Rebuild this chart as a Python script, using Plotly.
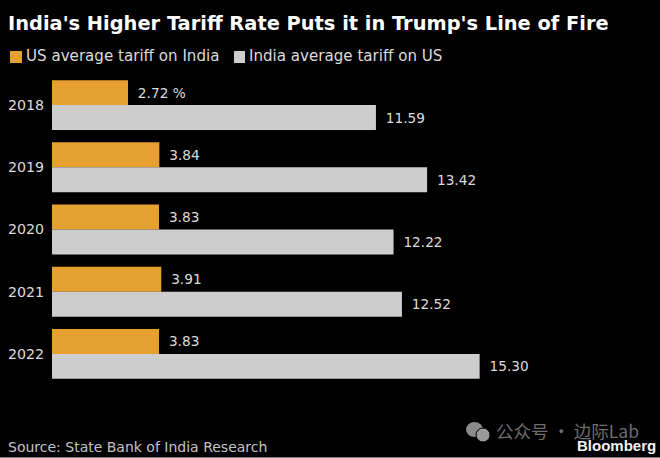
import plotly.graph_objects as go

years = ["2018", "2019", "2020", "2021", "2022"]
us_on_india = [2.72, 3.84, 3.83, 3.91, 3.83]
india_on_us = [11.59, 13.42, 12.22, 12.52, 15.30]
us_labels = ["2.72 %", "3.84", "3.83", "3.91", "3.83"]
india_labels = ["11.59", "13.42", "12.22", "12.52", "15.30"]

W, H = 660, 458
L, R, T, B = 52, 20, 74, 73
ORANGE = "#E5A02F"
GRAY = "#CDCDCD"
TXT = "#DCDCDC"
FONT = "DejaVu Sans"
NB = "\u2002"

fig = go.Figure()
fig.add_bar(y=years, x=us_on_india, orientation="h", name="US average tariff on India",
            marker=dict(color=ORANGE, line_width=0),
            text=[NB + t for t in us_labels], textposition="outside", cliponaxis=False)
fig.add_bar(y=years, x=india_on_us, orientation="h", name="India average tariff on US",
            marker=dict(color=GRAY, line_width=0),
            text=[NB + t for t in india_labels], textposition="outside", cliponaxis=False)

def px(x): return (x - L) / (W - L - R)
def py(y): return 1 - (y - T) / (H - T - B)

shapes = [
    dict(type="rect", xref="paper", yref="paper", x0=px(10), x1=px(22), y0=py(63), y1=py(51),
         fillcolor=ORANGE, line_width=0),
    dict(type="rect", xref="paper", yref="paper", x0=px(234), x1=px(245), y0=py(63), y1=py(51),
         fillcolor=GRAY, line_width=0),
    # watermark icon
    dict(type="circle", xref="paper", yref="paper", x0=px(466), x1=px(483), y0=py(437), y1=py(422),
         fillcolor="#8A8A8A", line_width=0),
    dict(type="circle", xref="paper", yref="paper", x0=px(476), x1=px(490), y0=py(442), y1=py(428),
         fillcolor="#9A9A9A", line=dict(color="#000000", width=1)),
    # bottom edge
    dict(type="line", xref="paper", yref="paper", x0=0 - L / (W - L - R), x1=1 + R / (W - L - R),
         y0=py(457.5), y1=py(457.5), line=dict(color="#7A7A7A", width=1)),
]

def note(x, y, text, size, color="#DCDCDC", family=FONT, anchor="left"):
    return dict(xref="paper", yref="paper", x=px(x), y=py(y), text=text, showarrow=False,
                xanchor=anchor, yanchor="middle", align="left", borderpad=0, borderwidth=0,
                font=dict(size=size, color=color, family=family))

annotations = [
    note(8, 23, "<b>India's Higher Tariff Rate Puts it in Trump's Line of Fire</b>", 19.4, "#FFFFFF"),
    note(26, 56, "US average tariff on India", 15.1),
    note(249, 56, "India average tariff on US", 15.1),
    note(8, 447, "Source: State Bank of India Research", 14, "#C4C4C4"),
    note(496, 430, "公众号 · 边际Lab", 17.5, "#6E6E6E", "Noto Sans CJK SC"),
    note(577, 445, "<b>Bloomberg</b>", 15, "#F2F2F2", "Liberation Sans"),
]

fig.update_layout(
    width=W, height=H, autosize=False,
    paper_bgcolor="#000000", plot_bgcolor="#000000",
    margin=dict(l=L, r=R, t=T, b=B, pad=0),
    barmode="group", bargap=0.197, bargroupgap=0,
    showlegend=False,
    font=dict(family=FONT, size=14.2, color=TXT),
    shapes=shapes, annotations=annotations,
)
fig.update_traces(textfont=dict(family=FONT, size=13.7, color=TXT), constraintext="none")
fig.update_yaxes(type="category", categoryorder="array", categoryarray=years, autorange="reversed",
                 showgrid=False, zeroline=False, showline=False, ticks="", ticklabelstandoff=7,
                 automargin=False, tickfont=dict(family=FONT, size=14.2, color=TXT))
fig.update_xaxes(range=[0, (W - L - R) / 27.95], visible=False, showgrid=False, zeroline=False,
                 automargin=False)

fig.write_html("out.html", config={"displayModeBar": False},
               post_script="document.body.style.margin='0';document.body.style.background='#000';")
